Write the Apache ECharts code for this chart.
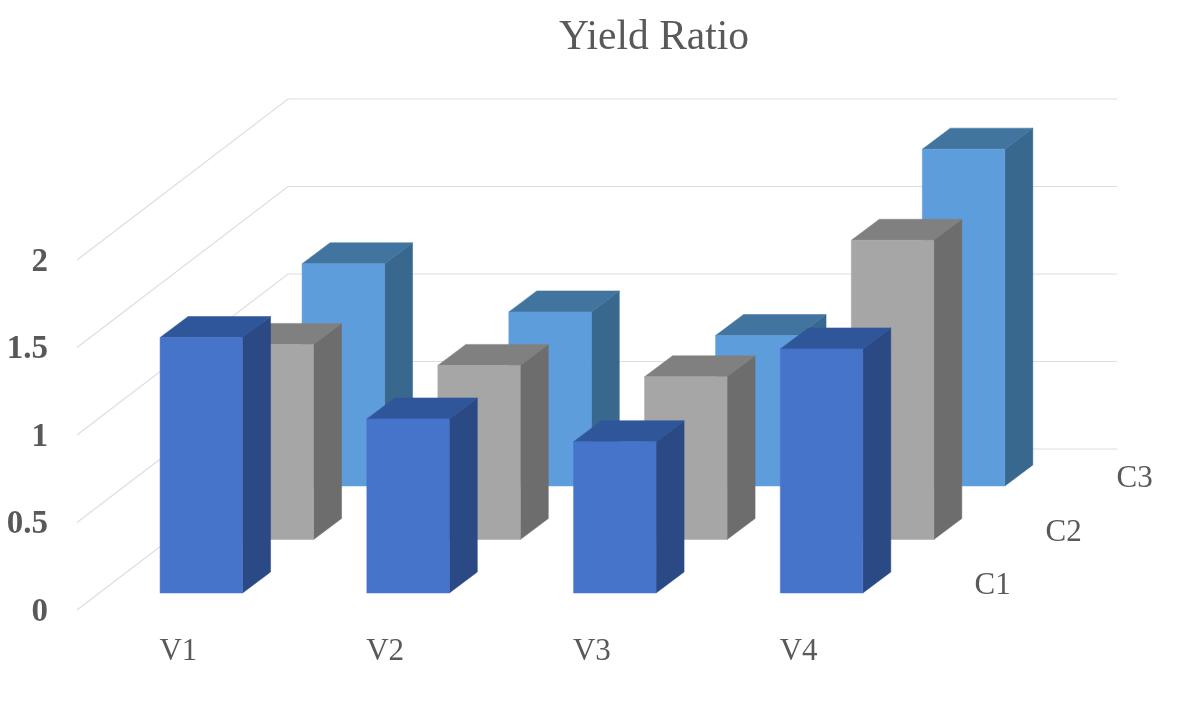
<!DOCTYPE html>
<html><head><meta charset="utf-8">
<style>html,body{margin:0;padding:0;background:#fff}#c{width:1182px;height:709px}</style>
<script src="https://cdn.jsdelivr.net/npm/echarts@6/dist/echarts.min.js"></script>
</head><body><div id="c"></div>
<script>
const titleText = 'Yield Ratio';
const categories = ['V1', 'V2', 'V3', 'V4'];
const depthNames = ['C1', 'C2', 'C3'];
const valueTicks = [0, 0.5, 1, 1.5, 2];
const c1Values = [1.46, 0.995, 0.865, 1.395];
const c2Values = [1.115, 0.995, 0.93, 1.71];
const c3Values = [1.27, 0.995, 0.86, 1.925];

const FONT = '"Liberation Serif","Times New Roman",serif';
const TEXT = '#595959';
const palette = [
  { front: '#4674CA', side: '#2B4A85', top: '#30569A' },
  { front: '#A6A6A6', side: '#6D6D6D', top: '#808080' },
  { front: '#5E9DDC', side: '#39688F', top: '#41749F' }
];
const BAR_W = 82.5, SIDE_DX = 28, SIDE_DY = -21;
const DEPTH_DX = 71, DEPTH_DY = -53.5, BASE_DY = -17, BAR_DX = -20.3;
const WALL_DX = 211, WALL_DY = -161, WALL_END = 1117;

function barSeries(depth, values) {
  const col = palette[depth];
  return {
    type: 'custom', name: depthNames[depth], silent: true, clip: false,
    z: 10 - depth,
    data: values.map((v, i) => [i, v]),
    encode: { x: 0, y: 1 },
    renderItem(params, api) {
      const c = api.value(0), v = api.value(1);
      const p0 = api.coord([c, 0]), p1 = api.coord([c, v]);
      const x0 = p0[0] + BAR_DX + DEPTH_DX * depth;
      const x1 = x0 + BAR_W;
      const yb = p0[1] + BASE_DY + DEPTH_DY * depth;
      const yt = p1[1] + BASE_DY + DEPTH_DY * depth;
      const poly = (points, fill) => ({
        type: 'polygon', shape: { points }, style: { fill, stroke: fill, lineWidth: 0.5 }
      });
      return {
        type: 'group',
        children: [
          poly([[x1, yt], [x1 + SIDE_DX, yt + SIDE_DY], [x1 + SIDE_DX, yb + SIDE_DY], [x1, yb]], col.side),
          poly([[x0, yt], [x0 + SIDE_DX, yt + SIDE_DY], [x1 + SIDE_DX, yt + SIDE_DY], [x1, yt]], col.top),
          poly([[x0, yt], [x1, yt], [x1, yb], [x0, yb]], col.front)
        ]
      };
    }
  };
}

const gridSeries = {
  type: 'custom', silent: true, clip: false, z: 1,
  data: valueTicks.map(v => [0, v]),
  encode: { x: 0, y: 1 },
  renderItem(params, api) {
    const p = api.coord([0, api.value(1)]);
    const left = 77;
    return {
      type: 'polyline',
      shape: { points: [[left, p[1]], [left + WALL_DX, p[1] + WALL_DY], [WALL_END, p[1] + WALL_DY]] },
      style: { fill: null, stroke: '#DEDEDE', lineWidth: 1.2 }
    };
  }
};

const depthLabelSeries = {
  type: 'custom', silent: true, clip: false, z: 20,
  data: depthNames.map((n, i) => [3, 0, i]),
  encode: { x: 0, y: 1 },
  renderItem(params, api) {
    const p = api.coord([api.value(0), api.value(1)]);
    const d = api.value(2);
    return {
      type: 'text',
      style: {
        x: p[0] + 192 + DEPTH_DX * d, y: p[1] - 24 + DEPTH_DY * d,
        text: depthNames[d], fill: TEXT, font: '31px ' + FONT,
        align: 'center', verticalAlign: 'middle'
      }
    };
  }
};

const chart = echarts.init(document.getElementById('c'), null, { renderer: 'canvas' });
chart.setOption({
  animation: false,
  backgroundColor: '#fff',
  title: {
    text: titleText, left: 649, top: 12, textAlign: 'center',
    textStyle: { fontFamily: FONT, fontSize: 41.5, fontWeight: 'normal', color: TEXT }
  },
  grid: { left: 77, width: 827, top: 260, height: 350, containLabel: false },
  xAxis: {
    type: 'category', data: categories,
    axisLine: { show: false }, axisTick: { show: false }, splitLine: { show: false },
    axisLabel: { fontFamily: FONT, fontSize: 31, color: TEXT, margin: 26, interval: 0, padding: [0, 4, 0, 0] }
  },
  yAxis: {
    type: 'value', min: 0, max: 2, interval: 0.5,
    axisLine: { show: false }, axisTick: { show: false }, splitLine: { show: false },
    axisLabel: { fontFamily: FONT, fontSize: 33, fontWeight: 'bold', color: TEXT, margin: 29, verticalAlign: 'top', lineHeight: 4 }
  },
  series: [gridSeries, barSeries(2, c3Values), barSeries(1, c2Values), barSeries(0, c1Values), depthLabelSeries]
});
</script></body></html>
